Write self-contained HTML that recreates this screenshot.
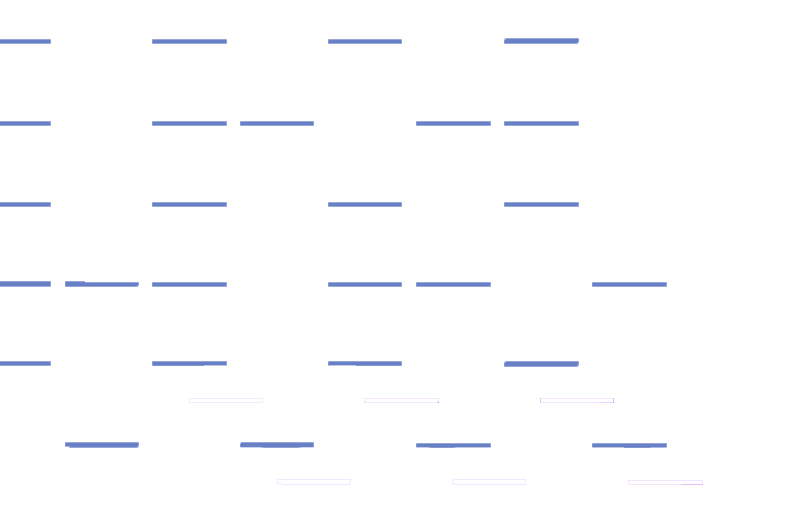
<!DOCTYPE html>
<html lang="en"><head><meta charset="utf-8"><title>bars</title>
<style>
html,body{margin:0;padding:0;background:#fff;overflow:hidden;font-family:"Liberation Sans",sans-serif}
svg{display:block}
</style></head><body>
<svg width="799" height="509" viewBox="0 0 799 509" shape-rendering="crispEdges">
<rect width="799" height="509" fill="#ffffff"/>
<rect x="505" y="38" width="1" height="1" fill="#9dacda"/>
<rect x="506" y="38" width="72" height="1" fill="#95a6d7"/>
<rect x="578" y="38" width="1" height="1" fill="#acb9e0"/>
<rect x="0" y="39" width="50" height="1" fill="#95a6d7"/>
<rect x="50" y="39" width="1" height="1" fill="#acb9e0"/>
<rect x="152" y="39" width="1" height="1" fill="#acb9e0"/>
<rect x="153" y="39" width="73" height="1" fill="#95a6d7"/>
<rect x="226" y="39" width="1" height="1" fill="#acb9e0"/>
<rect x="328" y="39" width="1" height="1" fill="#acb9e0"/>
<rect x="329" y="39" width="72" height="1" fill="#95a6d7"/>
<rect x="401" y="39" width="1" height="1" fill="#acb9e0"/>
<rect x="504" y="39" width="1" height="1" fill="#9dacda"/>
<rect x="505" y="39" width="1" height="1" fill="#acb9e0"/>
<rect x="506" y="39" width="72" height="1" fill="#6880c6"/>
<rect x="578" y="39" width="1" height="3" fill="#8ea0d4"/>
<rect x="0" y="40" width="50" height="3" fill="#6880c6"/>
<rect x="50" y="40" width="1" height="3" fill="#8ea0d4"/>
<rect x="152" y="40" width="1" height="3" fill="#8699d1"/>
<rect x="153" y="40" width="73" height="3" fill="#6880c6"/>
<rect x="226" y="40" width="1" height="3" fill="#8ea0d4"/>
<rect x="328" y="40" width="1" height="3" fill="#8699d1"/>
<rect x="329" y="40" width="72" height="3" fill="#6880c6"/>
<rect x="401" y="40" width="1" height="3" fill="#8ea0d4"/>
<rect x="504" y="40" width="1" height="3" fill="#8699d1"/>
<rect x="505" y="40" width="73" height="2" fill="#6880c6"/>
<rect x="505" y="42" width="72" height="1" fill="#6880c6"/>
<rect x="577" y="42" width="2" height="1" fill="#acb9e0"/>
<rect x="0" y="43" width="50" height="1" fill="#95a6d7"/>
<rect x="50" y="43" width="1" height="1" fill="#acb9e0"/>
<rect x="152" y="43" width="1" height="1" fill="#acb9e0"/>
<rect x="153" y="43" width="73" height="1" fill="#95a6d7"/>
<rect x="226" y="43" width="1" height="1" fill="#acb9e0"/>
<rect x="328" y="43" width="1" height="1" fill="#acb9e0"/>
<rect x="329" y="43" width="72" height="1" fill="#95a6d7"/>
<rect x="401" y="43" width="1" height="1" fill="#acb9e0"/>
<rect x="504" y="43" width="1" height="1" fill="#acb9e0"/>
<rect x="505" y="43" width="72" height="1" fill="#95a6d7"/>
<rect x="577" y="43" width="1" height="1" fill="#9dacda"/>
<rect x="0" y="121" width="50" height="1" fill="#95a6d7"/>
<rect x="50" y="121" width="1" height="1" fill="#acb9e0"/>
<rect x="152" y="121" width="1" height="1" fill="#acb9e0"/>
<rect x="153" y="121" width="73" height="1" fill="#95a6d7"/>
<rect x="226" y="121" width="1" height="1" fill="#acb9e0"/>
<rect x="240" y="121" width="1" height="1" fill="#acb9e0"/>
<rect x="241" y="121" width="72" height="1" fill="#95a6d7"/>
<rect x="313" y="121" width="1" height="1" fill="#acb9e0"/>
<rect x="416" y="121" width="1" height="1" fill="#acb9e0"/>
<rect x="417" y="121" width="73" height="1" fill="#95a6d7"/>
<rect x="490" y="121" width="1" height="1" fill="#acb9e0"/>
<rect x="504" y="121" width="1" height="1" fill="#acb9e0"/>
<rect x="505" y="121" width="73" height="1" fill="#95a6d7"/>
<rect x="578" y="121" width="1" height="1" fill="#acb9e0"/>
<rect x="0" y="122" width="50" height="3" fill="#6880c6"/>
<rect x="50" y="122" width="1" height="3" fill="#8ea0d4"/>
<rect x="152" y="122" width="1" height="3" fill="#8699d1"/>
<rect x="153" y="122" width="73" height="3" fill="#6880c6"/>
<rect x="226" y="122" width="1" height="3" fill="#8ea0d4"/>
<rect x="240" y="122" width="1" height="3" fill="#8699d1"/>
<rect x="241" y="122" width="72" height="3" fill="#6880c6"/>
<rect x="313" y="122" width="1" height="3" fill="#8ea0d4"/>
<rect x="416" y="122" width="1" height="3" fill="#8699d1"/>
<rect x="417" y="122" width="73" height="3" fill="#6880c6"/>
<rect x="490" y="122" width="1" height="3" fill="#8ea0d4"/>
<rect x="504" y="122" width="1" height="3" fill="#8699d1"/>
<rect x="505" y="122" width="73" height="3" fill="#6880c6"/>
<rect x="578" y="122" width="1" height="3" fill="#8ea0d4"/>
<rect x="0" y="125" width="50" height="1" fill="#95a6d7"/>
<rect x="50" y="125" width="1" height="1" fill="#acb9e0"/>
<rect x="152" y="125" width="1" height="1" fill="#acb9e0"/>
<rect x="153" y="125" width="73" height="1" fill="#95a6d7"/>
<rect x="226" y="125" width="1" height="1" fill="#acb9e0"/>
<rect x="240" y="125" width="1" height="1" fill="#acb9e0"/>
<rect x="241" y="125" width="72" height="1" fill="#95a6d7"/>
<rect x="313" y="125" width="1" height="1" fill="#acb9e0"/>
<rect x="416" y="125" width="1" height="1" fill="#acb9e0"/>
<rect x="417" y="125" width="73" height="1" fill="#95a6d7"/>
<rect x="490" y="125" width="1" height="1" fill="#acb9e0"/>
<rect x="504" y="125" width="1" height="1" fill="#acb9e0"/>
<rect x="505" y="125" width="73" height="1" fill="#95a6d7"/>
<rect x="578" y="125" width="1" height="1" fill="#acb9e0"/>
<rect x="0" y="202" width="50" height="1" fill="#95a6d7"/>
<rect x="50" y="202" width="1" height="1" fill="#acb9e0"/>
<rect x="152" y="202" width="1" height="1" fill="#acb9e0"/>
<rect x="153" y="202" width="73" height="1" fill="#95a6d7"/>
<rect x="226" y="202" width="1" height="1" fill="#acb9e0"/>
<rect x="328" y="202" width="1" height="1" fill="#acb9e0"/>
<rect x="329" y="202" width="72" height="1" fill="#95a6d7"/>
<rect x="401" y="202" width="1" height="1" fill="#acb9e0"/>
<rect x="504" y="202" width="1" height="1" fill="#acb9e0"/>
<rect x="505" y="202" width="73" height="1" fill="#95a6d7"/>
<rect x="578" y="202" width="1" height="1" fill="#acb9e0"/>
<rect x="0" y="203" width="50" height="3" fill="#6880c6"/>
<rect x="50" y="203" width="1" height="3" fill="#8ea0d4"/>
<rect x="152" y="203" width="1" height="3" fill="#8699d1"/>
<rect x="153" y="203" width="73" height="3" fill="#6880c6"/>
<rect x="226" y="203" width="1" height="3" fill="#8ea0d4"/>
<rect x="328" y="203" width="1" height="3" fill="#8699d1"/>
<rect x="329" y="203" width="72" height="3" fill="#6880c6"/>
<rect x="401" y="203" width="1" height="3" fill="#8ea0d4"/>
<rect x="504" y="203" width="1" height="3" fill="#8699d1"/>
<rect x="505" y="203" width="73" height="3" fill="#6880c6"/>
<rect x="578" y="203" width="1" height="3" fill="#8ea0d4"/>
<rect x="0" y="206" width="50" height="1" fill="#95a6d7"/>
<rect x="50" y="206" width="1" height="1" fill="#acb9e0"/>
<rect x="152" y="206" width="1" height="1" fill="#acb9e0"/>
<rect x="153" y="206" width="73" height="1" fill="#95a6d7"/>
<rect x="226" y="206" width="1" height="1" fill="#acb9e0"/>
<rect x="328" y="206" width="1" height="1" fill="#acb9e0"/>
<rect x="329" y="206" width="72" height="1" fill="#95a6d7"/>
<rect x="401" y="206" width="1" height="1" fill="#acb9e0"/>
<rect x="504" y="206" width="1" height="1" fill="#acb9e0"/>
<rect x="505" y="206" width="73" height="1" fill="#95a6d7"/>
<rect x="578" y="206" width="1" height="1" fill="#acb9e0"/>
<rect x="0" y="281" width="50" height="1" fill="#8ea0d4"/>
<rect x="50" y="281" width="1" height="1" fill="#a6b4dd"/>
<rect x="65" y="281" width="1" height="1" fill="#acb9e0"/>
<rect x="66" y="281" width="18" height="1" fill="#95a6d7"/>
<rect x="84" y="281" width="1" height="1" fill="#b4c0e2"/>
<rect x="85" y="281" width="1" height="1" fill="#e8ecf6"/>
<rect x="0" y="282" width="50" height="4" fill="#6880c6"/>
<rect x="50" y="282" width="1" height="4" fill="#8ea0d4"/>
<rect x="65" y="282" width="1" height="4" fill="#8699d1"/>
<rect x="66" y="282" width="19" height="1" fill="#6880c6"/>
<rect x="85" y="282" width="53" height="1" fill="#95a6d7"/>
<rect x="138" y="282" width="1" height="1" fill="#acb9e0"/>
<rect x="152" y="282" width="1" height="1" fill="#acb9e0"/>
<rect x="153" y="282" width="73" height="1" fill="#95a6d7"/>
<rect x="226" y="282" width="1" height="1" fill="#acb9e0"/>
<rect x="328" y="282" width="1" height="1" fill="#acb9e0"/>
<rect x="329" y="282" width="72" height="1" fill="#95a6d7"/>
<rect x="401" y="282" width="1" height="1" fill="#acb9e0"/>
<rect x="416" y="282" width="1" height="1" fill="#acb9e0"/>
<rect x="417" y="282" width="73" height="1" fill="#95a6d7"/>
<rect x="490" y="282" width="1" height="1" fill="#acb9e0"/>
<rect x="592" y="282" width="1" height="1" fill="#acb9e0"/>
<rect x="593" y="282" width="73" height="1" fill="#95a6d7"/>
<rect x="666" y="282" width="1" height="1" fill="#acb9e0"/>
<rect x="66" y="283" width="72" height="2" fill="#6880c6"/>
<rect x="138" y="283" width="1" height="2" fill="#8ea0d4"/>
<rect x="152" y="283" width="1" height="3" fill="#8699d1"/>
<rect x="153" y="283" width="73" height="3" fill="#6880c6"/>
<rect x="226" y="283" width="1" height="3" fill="#8ea0d4"/>
<rect x="328" y="283" width="1" height="3" fill="#8699d1"/>
<rect x="329" y="283" width="72" height="3" fill="#6880c6"/>
<rect x="401" y="283" width="1" height="3" fill="#8ea0d4"/>
<rect x="416" y="283" width="1" height="3" fill="#8699d1"/>
<rect x="417" y="283" width="73" height="3" fill="#6880c6"/>
<rect x="490" y="283" width="1" height="3" fill="#8ea0d4"/>
<rect x="592" y="283" width="1" height="3" fill="#8699d1"/>
<rect x="593" y="283" width="73" height="3" fill="#6880c6"/>
<rect x="666" y="283" width="1" height="3" fill="#8ea0d4"/>
<rect x="66" y="285" width="71" height="1" fill="#6880c6"/>
<rect x="137" y="285" width="2" height="1" fill="#acb9e0"/>
<rect x="0" y="286" width="50" height="1" fill="#a4b3dd"/>
<rect x="50" y="286" width="1" height="1" fill="#b8c3e4"/>
<rect x="65" y="286" width="1" height="1" fill="#acb9e0"/>
<rect x="66" y="286" width="71" height="1" fill="#95a6d7"/>
<rect x="137" y="286" width="1" height="1" fill="#acb9e0"/>
<rect x="152" y="286" width="1" height="1" fill="#acb9e0"/>
<rect x="153" y="286" width="73" height="1" fill="#95a6d7"/>
<rect x="226" y="286" width="1" height="1" fill="#acb9e0"/>
<rect x="328" y="286" width="1" height="1" fill="#acb9e0"/>
<rect x="329" y="286" width="72" height="1" fill="#95a6d7"/>
<rect x="401" y="286" width="1" height="1" fill="#acb9e0"/>
<rect x="416" y="286" width="1" height="1" fill="#acb9e0"/>
<rect x="417" y="286" width="73" height="1" fill="#95a6d7"/>
<rect x="490" y="286" width="1" height="1" fill="#acb9e0"/>
<rect x="592" y="286" width="1" height="1" fill="#acb9e0"/>
<rect x="593" y="286" width="73" height="1" fill="#95a6d7"/>
<rect x="666" y="286" width="1" height="1" fill="#acb9e0"/>
<rect x="0" y="361" width="50" height="1" fill="#95a6d7"/>
<rect x="50" y="361" width="1" height="1" fill="#acb9e0"/>
<rect x="152" y="361" width="1" height="1" fill="#acb9e0"/>
<rect x="153" y="361" width="73" height="1" fill="#95a6d7"/>
<rect x="226" y="361" width="1" height="1" fill="#acb9e0"/>
<rect x="328" y="361" width="1" height="1" fill="#acb9e0"/>
<rect x="329" y="361" width="72" height="1" fill="#95a6d7"/>
<rect x="401" y="361" width="1" height="1" fill="#acb9e0"/>
<rect x="505" y="361" width="1" height="1" fill="#9dacda"/>
<rect x="506" y="361" width="72" height="1" fill="#95a6d7"/>
<rect x="578" y="361" width="1" height="1" fill="#acb9e0"/>
<rect x="0" y="362" width="50" height="3" fill="#6880c6"/>
<rect x="50" y="362" width="1" height="3" fill="#8ea0d4"/>
<rect x="152" y="362" width="1" height="3" fill="#8699d1"/>
<rect x="153" y="362" width="73" height="3" fill="#6880c6"/>
<rect x="226" y="362" width="1" height="3" fill="#8ea0d4"/>
<rect x="328" y="362" width="1" height="3" fill="#8699d1"/>
<rect x="329" y="362" width="72" height="3" fill="#6880c6"/>
<rect x="401" y="362" width="1" height="3" fill="#8ea0d4"/>
<rect x="504" y="362" width="1" height="1" fill="#9dacda"/>
<rect x="505" y="362" width="1" height="1" fill="#acb9e0"/>
<rect x="506" y="362" width="72" height="1" fill="#6880c6"/>
<rect x="578" y="362" width="1" height="3" fill="#8ea0d4"/>
<rect x="504" y="363" width="1" height="3" fill="#8699d1"/>
<rect x="505" y="363" width="73" height="2" fill="#6880c6"/>
<rect x="0" y="365" width="50" height="1" fill="#95a6d7"/>
<rect x="50" y="365" width="1" height="1" fill="#acb9e0"/>
<rect x="152" y="365" width="1" height="1" fill="#acb9e0"/>
<rect x="153" y="365" width="51" height="1" fill="#7f93cf"/>
<rect x="204" y="365" width="22" height="1" fill="#c0cae7"/>
<rect x="226" y="365" width="1" height="1" fill="#acb9e0"/>
<rect x="328" y="365" width="1" height="1" fill="#acb9e0"/>
<rect x="329" y="365" width="27" height="1" fill="#c3cce8"/>
<rect x="356" y="365" width="45" height="1" fill="#8397d0"/>
<rect x="401" y="365" width="1" height="1" fill="#b4c0e2"/>
<rect x="505" y="365" width="72" height="1" fill="#6880c6"/>
<rect x="577" y="365" width="2" height="1" fill="#acb9e0"/>
<rect x="504" y="366" width="1" height="1" fill="#acb9e0"/>
<rect x="505" y="366" width="72" height="1" fill="#95a6d7"/>
<rect x="577" y="366" width="1" height="1" fill="#9dacda"/>
<rect x="189" y="398" width="74" height="1" fill="#f5e7fd"/>
<rect x="364" y="398" width="75" height="1" fill="#f4e5fd"/>
<rect x="540" y="398" width="1" height="5" fill="#e4c0fb"/>
<rect x="541" y="398" width="72" height="1" fill="#f4e5fd"/>
<rect x="613" y="398" width="1" height="5" fill="#e0b6fa"/>
<rect x="189" y="399" width="1" height="3" fill="#f5e7fd"/>
<rect x="262" y="399" width="1" height="3" fill="#f5e7fd"/>
<rect x="364" y="399" width="1" height="3" fill="#f4e5fd"/>
<rect x="438" y="399" width="1" height="2" fill="#f4e5fd"/>
<rect x="438" y="401" width="1" height="1" fill="#e8cbfb"/>
<rect x="189" y="402" width="74" height="1" fill="#f5e7fd"/>
<rect x="364" y="402" width="73" height="1" fill="#f4e5fd"/>
<rect x="437" y="402" width="1" height="1" fill="#ecd4fc"/>
<rect x="438" y="402" width="1" height="1" fill="#c992f7"/>
<rect x="541" y="402" width="57" height="1" fill="#f4e5fd"/>
<rect x="598" y="402" width="1" height="1" fill="#f1defd"/>
<rect x="599" y="402" width="1" height="1" fill="#efd8fc"/>
<rect x="600" y="402" width="13" height="1" fill="#ecd2fc"/>
<rect x="65" y="442" width="1" height="1" fill="#acb9e0"/>
<rect x="66" y="442" width="72" height="1" fill="#95a6d7"/>
<rect x="138" y="442" width="1" height="1" fill="#acb9e0"/>
<rect x="241" y="442" width="1" height="1" fill="#9dacda"/>
<rect x="242" y="442" width="71" height="1" fill="#95a6d7"/>
<rect x="313" y="442" width="1" height="1" fill="#acb9e0"/>
<rect x="65" y="443" width="1" height="3" fill="#8699d1"/>
<rect x="66" y="443" width="72" height="3" fill="#6880c6"/>
<rect x="138" y="443" width="1" height="3" fill="#8ea0d4"/>
<rect x="240" y="443" width="1" height="1" fill="#acb9e0"/>
<rect x="241" y="443" width="72" height="4" fill="#6880c6"/>
<rect x="313" y="443" width="1" height="4" fill="#8ea0d4"/>
<rect x="416" y="443" width="1" height="1" fill="#acb9e0"/>
<rect x="417" y="443" width="73" height="1" fill="#95a6d7"/>
<rect x="490" y="443" width="1" height="1" fill="#acb9e0"/>
<rect x="592" y="443" width="1" height="1" fill="#acb9e0"/>
<rect x="593" y="443" width="73" height="1" fill="#95a6d7"/>
<rect x="666" y="443" width="1" height="1" fill="#acb9e0"/>
<rect x="240" y="444" width="1" height="3" fill="#8699d1"/>
<rect x="416" y="444" width="1" height="3" fill="#8699d1"/>
<rect x="417" y="444" width="73" height="3" fill="#6880c6"/>
<rect x="490" y="444" width="1" height="3" fill="#8ea0d4"/>
<rect x="592" y="444" width="1" height="3" fill="#8699d1"/>
<rect x="593" y="444" width="73" height="3" fill="#6880c6"/>
<rect x="666" y="444" width="1" height="3" fill="#8ea0d4"/>
<rect x="65" y="446" width="1" height="1" fill="#acb9e0"/>
<rect x="66" y="446" width="4" height="1" fill="#a4b3dd"/>
<rect x="70" y="446" width="67" height="1" fill="#6880c6"/>
<rect x="137" y="446" width="2" height="1" fill="#acb9e0"/>
<rect x="69" y="447" width="1" height="1" fill="#acb9e0"/>
<rect x="70" y="447" width="67" height="1" fill="#95a6d7"/>
<rect x="137" y="447" width="1" height="1" fill="#9dacda"/>
<rect x="240" y="447" width="1" height="1" fill="#e1e6f4"/>
<rect x="241" y="447" width="19" height="1" fill="#cdd5ec"/>
<rect x="260" y="447" width="1" height="1" fill="#c0cae7"/>
<rect x="261" y="447" width="1" height="1" fill="#b4c0e3"/>
<rect x="262" y="447" width="1" height="1" fill="#a7b5de"/>
<rect x="263" y="447" width="1" height="1" fill="#9aaad9"/>
<rect x="264" y="447" width="34" height="1" fill="#8ea0d4"/>
<rect x="298" y="447" width="1" height="1" fill="#9babd9"/>
<rect x="299" y="447" width="1" height="1" fill="#a9b7df"/>
<rect x="300" y="447" width="1" height="1" fill="#b7c2e4"/>
<rect x="301" y="447" width="1" height="1" fill="#c4cde9"/>
<rect x="302" y="447" width="11" height="1" fill="#d2d9ee"/>
<rect x="313" y="447" width="1" height="1" fill="#e1e6f4"/>
<rect x="416" y="447" width="1" height="1" fill="#d5dbef"/>
<rect x="417" y="447" width="11" height="1" fill="#c3cce8"/>
<rect x="428" y="447" width="1" height="1" fill="#b4c0e2"/>
<rect x="429" y="447" width="1" height="1" fill="#a4b3dd"/>
<rect x="430" y="447" width="1" height="1" fill="#95a6d7"/>
<rect x="431" y="447" width="22" height="1" fill="#8699d1"/>
<rect x="453" y="447" width="1" height="1" fill="#92a3d6"/>
<rect x="454" y="447" width="1" height="1" fill="#9dadda"/>
<rect x="455" y="447" width="1" height="1" fill="#a9b6de"/>
<rect x="456" y="447" width="1" height="1" fill="#b4c0e3"/>
<rect x="457" y="447" width="33" height="1" fill="#c0cae7"/>
<rect x="490" y="447" width="1" height="1" fill="#d5dbef"/>
<rect x="592" y="447" width="1" height="1" fill="#d2d9ee"/>
<rect x="593" y="447" width="31" height="1" fill="#bbc6e5"/>
<rect x="624" y="447" width="27" height="1" fill="#7f93cf"/>
<rect x="651" y="447" width="15" height="1" fill="#acb9e0"/>
<rect x="666" y="447" width="1" height="1" fill="#c6cfe9"/>
<rect x="277" y="479" width="74" height="1" fill="#f5e7fd"/>
<rect x="453" y="479" width="73" height="1" fill="#f5e7fd"/>
<rect x="277" y="480" width="1" height="3" fill="#f5e7fd"/>
<rect x="350" y="480" width="1" height="3" fill="#f5e7fd"/>
<rect x="452" y="480" width="1" height="4" fill="#f5e7fd"/>
<rect x="453" y="480" width="1" height="1" fill="#faf2fe"/>
<rect x="525" y="480" width="1" height="4" fill="#f5e7fd"/>
<rect x="628" y="480" width="75" height="1" fill="#f4e5fd"/>
<rect x="628" y="481" width="1" height="3" fill="#f4e5fd"/>
<rect x="702" y="481" width="1" height="3" fill="#f4e5fd"/>
<rect x="277" y="483" width="5" height="1" fill="#f5e7fd"/>
<rect x="349" y="483" width="2" height="1" fill="#f5e7fd"/>
<rect x="281" y="484" width="69" height="1" fill="#f5e7fd"/>
<rect x="452" y="484" width="74" height="1" fill="#f5e7fd"/>
<rect x="628" y="484" width="52" height="1" fill="#f4e5fd"/>
<rect x="680" y="484" width="1" height="1" fill="#f0dcfd"/>
<rect x="681" y="484" width="1" height="1" fill="#eacdfc"/>
<rect x="682" y="484" width="21" height="1" fill="#e4befb"/>
</svg>
</body></html>
